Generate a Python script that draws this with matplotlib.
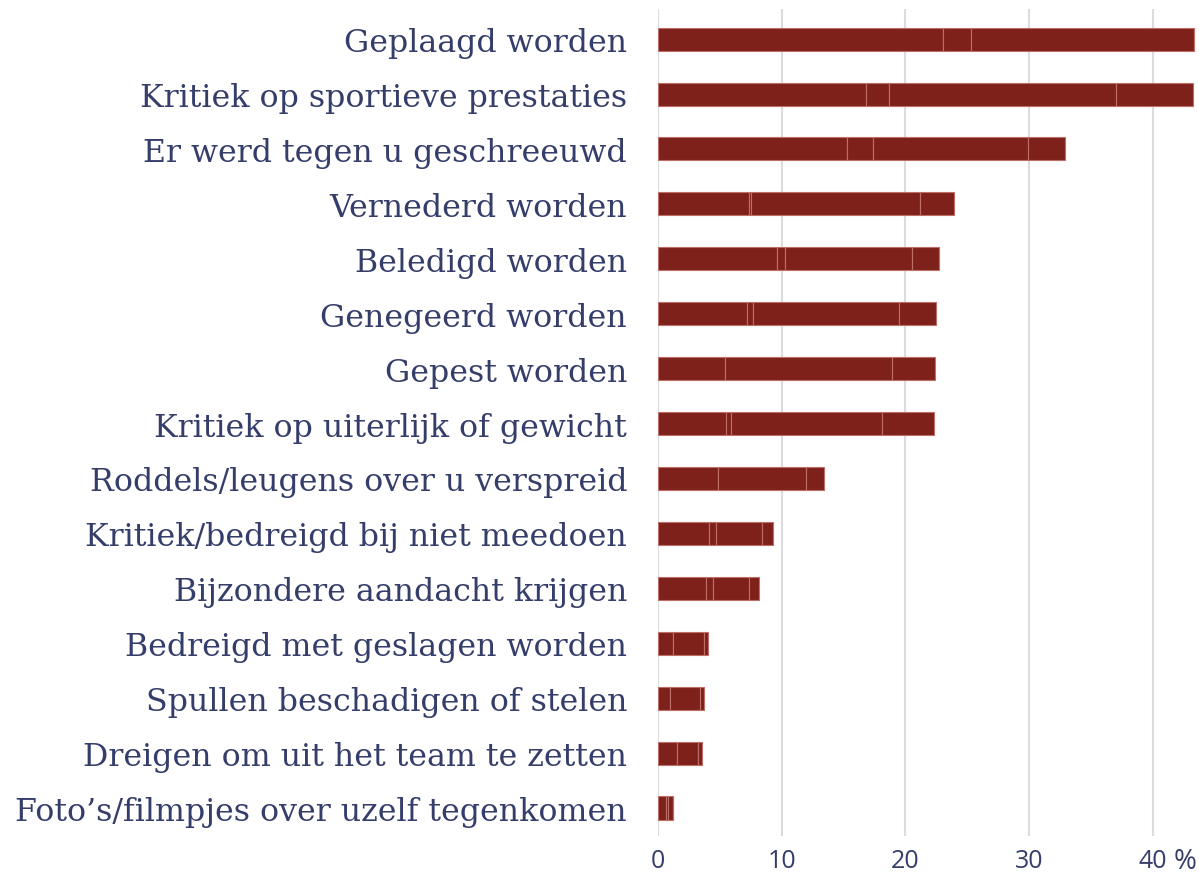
import matplotlib
matplotlib.use("Agg")
import matplotlib.pyplot as plt
import numpy as np

categories = [
    "Geplaagd worden",
    "Kritiek op sportieve prestaties",
    "Er werd tegen u geschreeuwd",
    "Vernederd worden",
    "Beledigd worden",
    "Genegeerd worden",
    "Gepest worden",
    "Kritiek op uiterlijk of gewicht",
    "Roddels/leugens over u verspreid",
    "Kritiek/bedreigd bij niet meedoen",
    "Bijzondere aandacht krijgen",
    "Bedreigd met geslagen worden",
    "Spullen beschadigen of stelen",
    "Dreigen om uit het team te zetten",
    "Foto\u2019s/filmpjes over uzelf tegenkomen",
]

# stacked segments (percent)
seg1 = [23.0, 16.85, 15.3, 7.35, 9.65, 7.2, 5.4, 5.55, 4.85, 4.15, 3.9, 1.2, 1.0, 1.6, 0.7]
seg2 = [2.3, 1.85, 2.1, 0.2, 0.65, 0.5, 0.05, 0.4, 0.0, 0.55, 0.55, 0.0, 0.0, 0.0, 0.15]
seg3 = [18.0, 18.3, 12.5, 13.65, 10.25, 11.8, 13.5, 12.15, 7.15, 3.75, 2.95, 2.55, 2.45, 1.65, 0.35]
seg4 = [0.0, 6.2, 3.0, 2.75, 2.15, 3.0, 3.45, 4.2, 1.4, 0.85, 0.75, 0.35, 0.3, 0.3, 0.0]

xticks = [0, 10, 20, 30, 40]

BAR = "#7f211b"
EDGE = "#bd6e68"
TEXT = "#353d6b"
GRID = "#dcdcdc"

fig = plt.figure(figsize=(11.99, 8.78), dpi=100)
ax = fig.add_axes([0.5485, 0.0467, 0.4495, 0.9420])

y = np.arange(len(categories))
left = np.zeros(len(categories))
for seg in (seg1, seg2, seg3, seg4):
    seg = np.array(seg)
    ax.barh(y, seg, left=left, height=0.42, color=BAR, edgecolor=EDGE,
            linewidth=0.8, zorder=3)
    left += seg

ax.set_xlim(0, 43.5)
ax.set_ylim(14.51, -0.55)
ax.set_yticks(y)
ax.set_yticklabels(categories, fontsize=22.8, color=TEXT, family="DejaVu Serif")
ax.set_xticks(xticks)
ax.set_xticklabels([str(t) for t in xticks], fontsize=18, color=TEXT, family="Open Sans")
ax.tick_params(axis="y", length=0, pad=22)
ax.tick_params(axis="x", length=0, pad=9)
ax.grid(axis="x", color=GRID, linewidth=1.5, zorder=0)
for s in ax.spines.values():
    s.set_visible(False)

fig.text(1185 / 1199, 1 - 862 / 878, "%", fontsize=20, color=TEXT,
         family="Open Sans", ha="center", va="center")

fig.savefig("out.png", dpi=100)
